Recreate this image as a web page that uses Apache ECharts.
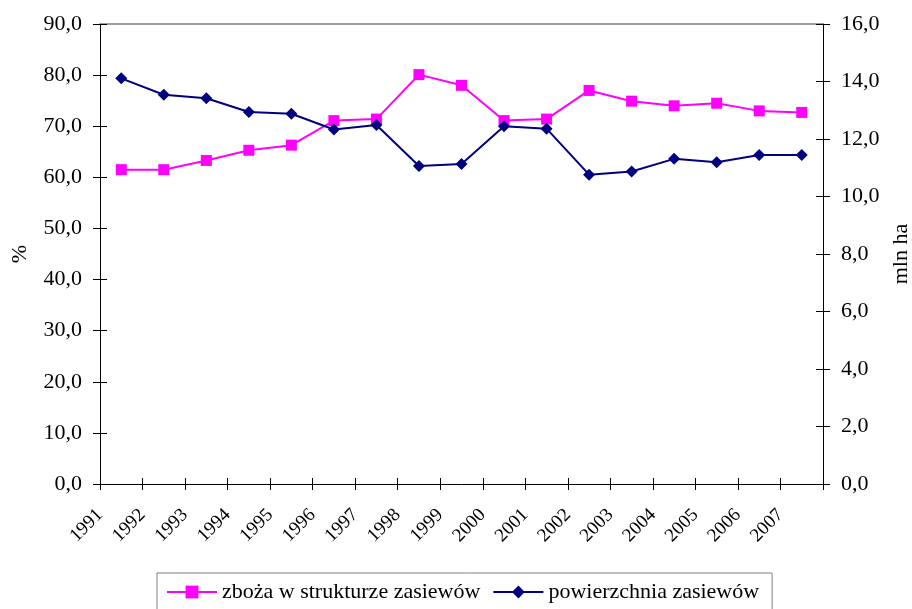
<!DOCTYPE html>
<html>
<head>
<meta charset="utf-8">
<script src="https://cdn.jsdelivr.net/npm/echarts@6/dist/echarts.min.js"></script>
<style>
  html, body { margin: 0; padding: 0; background: #fff; }
  #chart { width: 912px; height: 609px; }
</style>
</head>
<body>
<div id="chart"></div>
<script>
// Years on the category axis
const years = ['1991','1992','1993','1994','1995','1996','1997','1998','1999',
               '2000','2001','2002','2003','2004','2005','2006','2007'];
// Tick labels sit on the category boundaries (one extra, empty boundary at the end)
const yearTickLabels = years.concat(['']);

// Share of cereals in the sown-area structure, %
const zbozaUdzial = [61.5, 61.5, 63.3, 65.3, 66.3, 71.1, 71.4, 80.1, 78.0,
                     71.1, 71.4, 77.0, 74.9, 74.0, 74.5, 73.0, 72.7];
// Total sown area, million ha
const powierzchnia = [14.11, 13.54, 13.42, 12.94, 12.88, 12.33, 12.49, 11.06, 11.13,
                      12.44, 12.36, 10.76, 10.87, 11.31, 11.19, 11.44, 11.44];

const FONT = '"Liberation Serif", "Times New Roman", serif';
const FS = 22;
const fmt = v => v.toFixed(1).replace('.', ',');

const chart = echarts.init(document.getElementById('chart'), null, { renderer: 'canvas' });

const lineStyleAxis = { show: true, onZero: false, lineStyle: { color: '#000', width: 1 } };

chart.setOption({
  animation: false,
  backgroundColor: '#fff',
  textStyle: { fontFamily: FONT, color: '#000' },
  grid: { left: 100, right: 89, top: 24, bottom: 125, containLabel: false, outerBoundsMode: 'none' },
  legend: {
    left: 157,
    top: 573,
    padding: [8, 13, 12, 9],
    itemGap: 12,
    itemWidth: 50,
    itemHeight: 16,
    borderColor: '#808080',
    borderWidth: 1,
    textStyle: { fontFamily: FONT, fontSize: FS, color: '#000' },
    data: ['zboża w strukturze zasiewów', 'powierzchnia zasiewów']
  },
  xAxis: [
    { // data axis: points centred in categories, inner tick marks at boundaries
      type: 'category', data: years, boundaryGap: true, position: 'bottom',
      axisLine: lineStyleAxis,
      axisTick: { show: true, inside: true, length: 6, lineStyle: { color: '#000' } },
      axisLabel: { show: false }, splitLine: { show: false }
    },
    { // label axis: year labels at the category boundaries
      type: 'category', data: yearTickLabels, boundaryGap: false, position: 'bottom',
      axisLine: { show: false, onZero: false },
      axisTick: { show: true, inside: false, length: 6, interval: 0, lineStyle: { color: '#000' } },
      axisLabel: { show: true, interval: 0, rotate: 45, margin: 28,
                   fontFamily: FONT, fontSize: 19, color: '#000' },
      splitLine: { show: false }
    },
    { // top border of the plot area
      type: 'category', data: years, position: 'top',
      axisLine: { show: true, onZero: false, lineStyle: { color: '#808080', width: 1.5 } },
      axisTick: { show: false }, axisLabel: { show: false }, splitLine: { show: false }
    }
  ],
  yAxis: [
    {
      type: 'value', position: 'left', min: 0, max: 90, interval: 10,
      name: '%', nameLocation: 'middle', nameGap: 69, nameRotate: 90,
      nameTextStyle: { fontFamily: FONT, fontSize: FS, color: '#000' },
      axisLine: lineStyleAxis,
      axisTick: { show: true, inside: false, length: 7, lineStyle: { color: '#000' } },
      axisLabel: { margin: 18, formatter: fmt, fontFamily: FONT, fontSize: FS, color: '#000' },
      splitLine: { show: false }
    },
    {
      type: 'value', position: 'right', min: 0, max: 16, interval: 2,
      name: 'mln ha', nameLocation: 'middle', nameGap: 66, nameRotate: 90,
      nameTextStyle: { fontFamily: FONT, fontSize: FS, color: '#000' },
      axisLine: lineStyleAxis,
      axisTick: { show: true, inside: false, length: 7, lineStyle: { color: '#000' } },
      axisLabel: { margin: 18, formatter: fmt, fontFamily: FONT, fontSize: FS, color: '#000' },
      splitLine: { show: false }
    },
    { // inner half of the crossing ticks, left scale
      type: 'value', position: 'left', min: 0, max: 90, interval: 10,
      axisLine: { show: false, onZero: false },
      axisTick: { show: true, inside: true, length: 7, lineStyle: { color: '#000' } },
      axisLabel: { show: false }, splitLine: { show: false }
    },
    { // inner half of the crossing ticks, right scale
      type: 'value', position: 'right', min: 0, max: 16, interval: 2,
      axisLine: { show: false, onZero: false },
      axisTick: { show: true, inside: true, length: 7, lineStyle: { color: '#000' } },
      axisLabel: { show: false }, splitLine: { show: false }
    }
  ],
  series: [
    {
      name: 'zboża w strukturze zasiewów',
      type: 'line', xAxisIndex: 0, yAxisIndex: 0,
      data: zbozaUdzial,
      symbol: 'rect', symbolSize: 11,
      lineStyle: { color: '#FF00FF', width: 2 },
      itemStyle: { color: '#FF00FF', borderWidth: 0 }
    },
    {
      name: 'powierzchnia zasiewów',
      type: 'line', xAxisIndex: 0, yAxisIndex: 1,
      data: powierzchnia,
      symbol: 'diamond', symbolSize: 12,
      lineStyle: { color: '#000080', width: 2 },
      itemStyle: { color: '#000080', borderWidth: 0 }
    }
  ]
});
</script>
</body>
</html>
